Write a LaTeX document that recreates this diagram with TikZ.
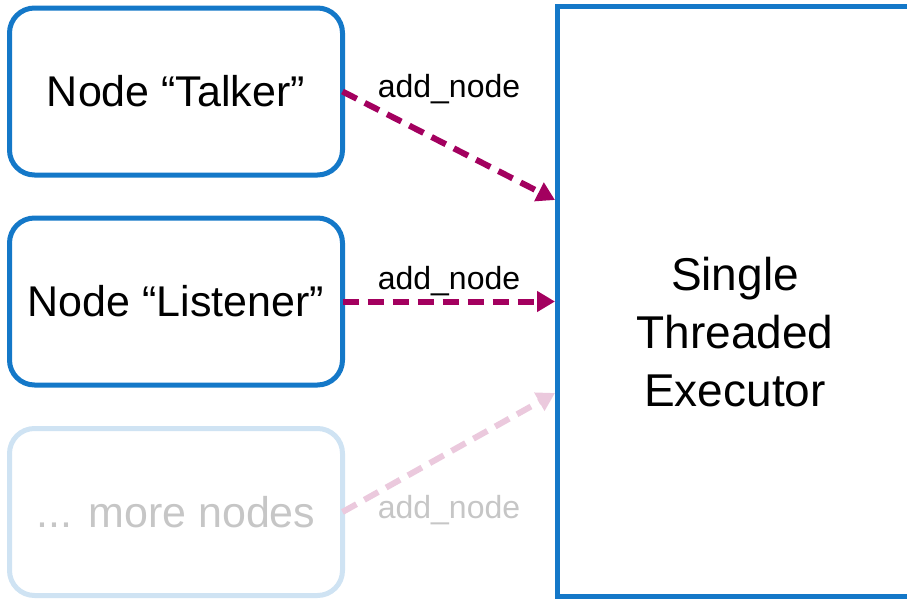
\documentclass[tikz,border=0pt]{standalone}
\usepackage{fontspec}
\setmainfont{Liberation Sans}
\usetikzlibrary{arrows.meta}
\definecolor{boxblue}{HTML}{1478C8}
\definecolor{paleblue}{HTML}{CFE3F3}
\definecolor{plum}{HTML}{A3005F}
\definecolor{paleplum}{HTML}{EBC9DD}
\definecolor{palegrey}{HTML}{C6C6C6}
\tikzset{
  nodebox/.style={draw=boxblue, line width=5pt, rounded corners=25pt,
    minimum width=333pt, minimum height=167pt, outer sep=0pt,
    font=\fontsize{43}{50}\selectfont},
  ghostbox/.style={nodebox, draw=paleblue, text=palegrey},
  execbox/.style={draw=boxblue, line width=5pt, minimum width=356pt,
    minimum height=590pt, outer sep=0pt},
  addarrow/.style={draw=plum, line width=6pt, dash pattern=on 16pt off 9pt,
    -{Triangle[length=18pt,width=20pt]}},
  ghostarrow/.style={addarrow, draw=paleplum},
  calllabel/.style={font=\fontsize{32}{38}\selectfont, inner sep=0pt}
}
\begin{document}
\begin{tikzpicture}[x=1pt,y=-1pt]
  \useasboundingbox (0,0) rectangle (907,600);
  \clip (0,0) rectangle (907,600);

  % the executor and the nodes added to it
  \node[execbox] (exec) at (735,301) {};
  \node[align=center, font=\fontsize{46}{58}\selectfont] (execname) at (735,332)
    {Single\\Threaded\\Executor};

  \node[nodebox] (talker) at (176,91.5) {Node “Talker”};
  \node[nodebox] (listener) at (176,301.5) {Node “Listener”};
  \node[ghostbox] (more) at (176,512) {... more nodes};

  % where each call lands on the executor
  \coordinate (in1) at (555,200);
  \coordinate (in2) at (555,301.5);
  \coordinate (in3) at (555,393);

  \draw[addarrow] (talker.east) -- (in1);
  \draw[addarrow] (listener.east) -- (in2);
  \draw[ghostarrow] (more.east) -- (in3);

  \node[calllabel] (lab1) at (449,89) {add\_node};
  \node[calllabel] (lab2) at (449,281) {add\_node};
  \node[calllabel, text=palegrey] (lab3) at (449,510) {add\_node};
\end{tikzpicture}
\end{document}
